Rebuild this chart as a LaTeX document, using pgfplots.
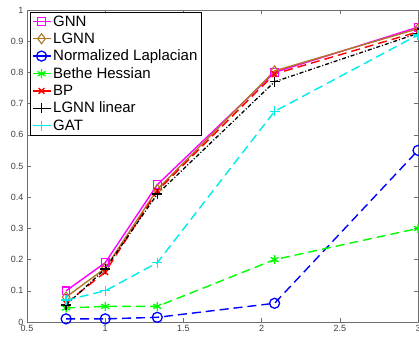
\documentclass[border=0pt]{standalone}
\usepackage{fontspec}
\setmainfont{Liberation Sans}
\usepackage{pgfplots}
\pgfplotsset{compat=1.18}
\definecolor{lgnnbrown}{RGB}{175,120,35}
\definecolor{gnnmag}{RGB}{255,0,255}
\definecolor{gatcyan}{RGB}{0,235,235}
\definecolor{axgray}{RGB}{110,110,110}
\begin{document}
\begin{tikzpicture}
\begin{axis}[name=main, scale only axis, width=391pt, height=312pt,
  xmin=0.5, xmax=3, ymin=0, ymax=1,
  xtick={0.5,1,1.5,2,2.5,3},
  ytick={0,0.1,0.2,0.3,0.4,0.5,0.6,0.7,0.8,0.9,1},
  yticklabels={0,0.1,0.2,0.3,0.4,0.5,0.6,0.7,0.8,0.9,1},
  xticklabels={0.5,1,1.5,2,2.5,3},
  tick align=inside,
  axis line style={axgray},
  tick style={axgray, thin},
  major tick length=4pt,
  ticklabel style={font=\fontsize{9}{10}\selectfont, text=darkgray},
  /pgf/number format/assume math mode=true,
  legend style={at={(0.008,0.994)}, anchor=north west,
    font=\fontsize{15}{15}\selectfont, draw=black, inner sep=1.5pt,
    row sep=1.2pt, cells={anchor=west}},
  legend image code/.code={\draw[mark repeat=2,mark phase=2,#1] plot coordinates {(0pt,0pt) (9pt,0pt) (18pt,0pt)};},
  every axis plot/.append style={line width=1.4pt},
  legend entries={GNN, LGNN, Normalized Laplacian, Bethe Hessian, BP, LGNN linear, GAT},
]
\addlegendimage{draw=gnnmag, line width=1.4pt, solid, mark=square, mark size=3.8pt, mark options={solid, draw=gnnmag, line width=1.1pt}}
\addlegendimage{draw=lgnnbrown, line width=1.4pt, solid, mark=diamond, mark size=5pt, mark options={solid, draw=lgnnbrown, line width=1.1pt}}
\addlegendimage{draw=blue, line width=1.4pt, solid, mark=o, mark size=5pt, mark options={solid, draw=blue, line width=1.3pt}}
\addlegendimage{draw=green, line width=1.4pt, solid, mark=asterisk, mark size=4.5pt, mark options={solid, draw=green, line width=1.4pt}}
\addlegendimage{draw=red, line width=1.4pt, solid, mark=x, mark size=4pt, mark options={solid, draw=red, line width=1.4pt}}
\addlegendimage{draw=black, line width=1.4pt, solid, mark=+, mark size=5pt, mark options={solid, draw=black, line width=1.4pt}}
\addlegendimage{draw=gatcyan, line width=1.4pt, solid, mark=+, mark size=5pt, mark options={solid, draw=gatcyan, line width=1.4pt}}
\addplot[forget plot, color=gnnmag, solid, mark=square, mark size=3.8pt, mark options={solid, line width=1.1pt}]
  coordinates {(0.75,0.10) (1.0,0.19) (1.333,0.44) (2.083,0.80) (3,0.945)};
\addplot[forget plot, color=lgnnbrown, solid, mark=diamond, mark size=5pt, mark options={solid, line width=1.1pt}]
  coordinates {(0.75,0.08) (1.0,0.172) (1.333,0.425) (2.083,0.805) (3,0.94)};
\addplot[forget plot, color=blue, dash pattern=on 9pt off 5pt, mark=o, mark size=5pt, mark options={solid, line width=1.3pt}]
  coordinates {(0.75,0.01) (1.0,0.01) (1.333,0.015) (2.083,0.06) (3,0.55)};
\addplot[forget plot, color=green, dash pattern=on 9pt off 5pt, mark=asterisk, mark size=4.5pt, mark options={solid, line width=1.4pt}]
  coordinates {(0.75,0.045) (1.0,0.05) (1.333,0.05) (2.083,0.20) (3,0.30)};
\addplot[forget plot, color=red, dash pattern=on 9pt off 5pt, mark=x, mark size=4pt, mark options={solid, line width=1.4pt}]
  coordinates {(0.75,0.06) (1.0,0.16) (1.333,0.42) (2.083,0.795) (3,0.93)};
\addplot[forget plot, color=black, line width=1.3pt, dash pattern=on 4pt off 2pt on 1pt off 2pt, mark=+, mark size=5pt, mark options={solid, line width=1.4pt}]
  coordinates {(0.75,0.055) (1.0,0.17) (1.333,0.41) (2.083,0.77) (3,0.925)};
\addplot[forget plot, color=gatcyan, dash pattern=on 9pt off 5pt, mark=+, mark size=5pt, mark options={solid, line width=1.4pt}]
  coordinates {(0.75,0.07) (1.0,0.10) (1.333,0.19) (2.083,0.675) (3,0.92)};
\end{axis}
\pgfresetboundingbox
\path[use as bounding box] ([xshift=-27pt,yshift=-17pt]main.south west) rectangle ([xshift=1pt,yshift=10pt]main.north east);
\end{tikzpicture}
\end{document}
